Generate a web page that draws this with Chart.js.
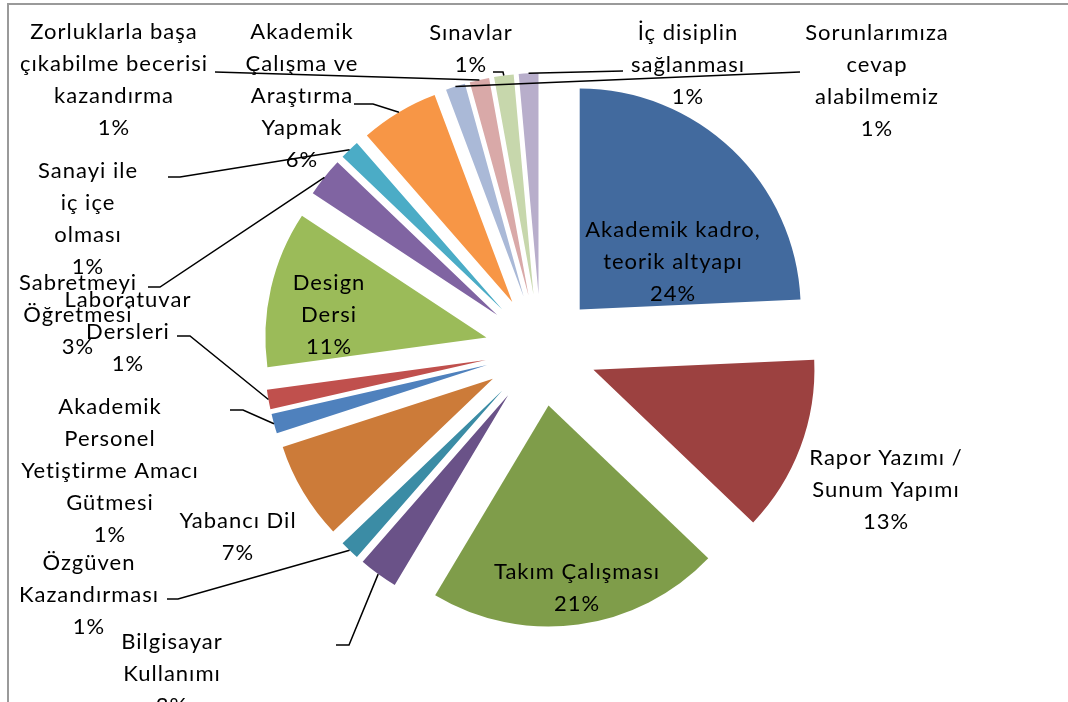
<!DOCTYPE html>
<html>
<head>
<meta charset="utf-8">
<script src="https://cdn.jsdelivr.net/npm/chart.js@4/dist/chart.umd.min.js"></script>
<style>
  html, body { margin: 0; padding: 0; background: #fff; }
  #wrap { width: 1068px; height: 702px; }
</style>
</head>
<body>
<div id="wrap"><canvas id="pieChart" width="1068" height="702"></canvas></div>
<script>
// Datos: categorías (con sus saltos de línea) y número de respuestas
const categories = [
  ['Akademik kadro,', 'teorik altyapı'],
  ['Rapor Yazımı /', 'Sunum Yapımı'],
  ['Takım Çalışması'],
  ['Bilgisayar', 'Kullanımı'],
  ['Özgüven', 'Kazandırması'],
  ['Yabancı Dil'],
  ['Akademik', 'Personel', 'Yetiştirme Amacı', 'Gütmesi'],
  ['Laboratuvar', 'Dersleri'],
  ['Design', 'Dersi'],
  ['Sabretmeyi', 'Öğretmesi'],
  ['Sanayi ile', 'iç içe', 'olması'],
  ['Akademik', 'Çalışma ve', 'Araştırma', 'Yapmak'],
  ['Sorunlarımıza', 'cevap', 'alabilmemiz'],
  ['Zorluklarla başa', 'çıkabilme becerisi', 'kazandırma'],
  ['Sınavlar'],
  ['İç disiplin', 'sağlanması']
];
const counts = [17, 9, 15, 2, 1, 5, 1, 1, 8, 2, 1, 4, 1, 1, 1, 1];

const sliceColors = [
  '#426A9E', '#9C4140', '#7F9D4A', '#6A5288', '#3B8CA5', '#CC7B39',
  '#4F81BD', '#C0504D', '#9BBB59', '#8064A2', '#4BACC6', '#F79646',
  '#AAB9D7', '#D9A9A8', '#C7D7AC', '#B8AECB'
];

// Posición de cada etiqueta (centro x, y de la primera línea)
const labelPos = [
  [673, 230], [886, 458], [577, 572], [172, 642], [89, 563], [238, 521],
  [110, 407], [128, 300], [329, 283], [78, 283], [88, 171], [302, 32],
  [877, 33], [114, 32], [471, 33], [688, 33]
];
// Líneas guía: punto junto a la etiqueta (+ codo), el final va al sector
const leaders = {
  3: [[336, 645], [349, 645]],
  4: [[167, 599], [178, 599]],
  6: [[230, 410], [243, 410]],
  7: [[177, 336], [190, 336]],
  9: [[148, 287], [160, 287]],
  10: [[168, 177], [180, 177]],
  11: [[354, 104], [373, 104]],
  12: [[800, 72]],
  13: [[215, 72]],
  14: [[493, 72], [503, 72]],
  15: [[623, 71]]
};

const EXPLODE = 56;      // separación de los sectores
const LINE_H = 32;
const FONT = '22px Lato';

const total = counts.reduce((a, b) => a + b, 0);

// Dibuja los sectores separados del centro (pie "explotado")
const explodePlugin = {
  id: 'explode',
  beforeDraw(chart) {
    const ctx = chart.ctx;
    ctx.save();
    ctx.strokeStyle = '#9a9a9a';
    ctx.lineWidth = 2;
    ctx.beginPath();
    ctx.moveTo(8, 702);
    ctx.lineTo(8, 4);
    ctx.lineTo(1068, 4);
    ctx.stroke();
    ctx.restore();
  },
  beforeDatasetDraw(chart, args) {
    const ctx = chart.ctx;
    args.meta.data.forEach(arc => {
      const mid = (arc.startAngle + arc.endAngle) / 2;
      ctx.save();
      ctx.translate(Math.cos(mid) * EXPLODE, Math.sin(mid) * EXPLODE);
      arc.draw(ctx);
      ctx.restore();
    });
    return false;
  },
  afterDraw(chart) {
    const ctx = chart.ctx;
    const arcs = chart.getDatasetMeta(0).data;

    // líneas guía
    ctx.save();
    ctx.strokeStyle = '#000';
    ctx.lineWidth = 1.5;
    Object.keys(leaders).forEach(k => {
      const arc = arcs[k];
      const mid = (arc.startAngle + arc.endAngle) / 2;
      const r = arc.outerRadius + EXPLODE;
      const pts = leaders[k];
      ctx.beginPath();
      ctx.moveTo(pts[0][0], pts[0][1]);
      for (let i = 1; i < pts.length; i++) ctx.lineTo(pts[i][0], pts[i][1]);
      ctx.lineTo(arc.x + Math.cos(mid) * r, arc.y + Math.sin(mid) * r);
      ctx.stroke();
    });
    ctx.restore();

    // textos
    ctx.save();
    ctx.font = FONT;
    ctx.letterSpacing = '1px';
    ctx.fillStyle = '#000';
    ctx.textAlign = 'center';
    ctx.textBaseline = 'middle';
    categories.forEach((lines, i) => {
      const pct = Math.round(counts[i] / total * 100) + '%';
      const all = lines.concat([pct]);
      all.forEach((t, j) => {
        ctx.fillText(t, labelPos[i][0], labelPos[i][1] + j * LINE_H);
      });
    });
    ctx.restore();
  }
};

const pieContext = document.getElementById('pieChart').getContext('2d');
const pieChart = new Chart(pieContext, {
  type: 'pie',
  data: {
    labels: categories,
    datasets: [{
      data: counts,
      backgroundColor: sliceColors,
      borderWidth: 0,
      offset: 0,
      hoverOffset: 0
    }]
  },
  options: {
    responsive: false,
    animation: false,
    radius: 221,
    layout: { padding: { left: 14, right: 0, top: 0, bottom: 2 } },
    plugins: {
      legend: { display: false },
      tooltip: { enabled: false }
    }
  },
  plugins: [explodePlugin]
});
</script>
</body>
</html>
